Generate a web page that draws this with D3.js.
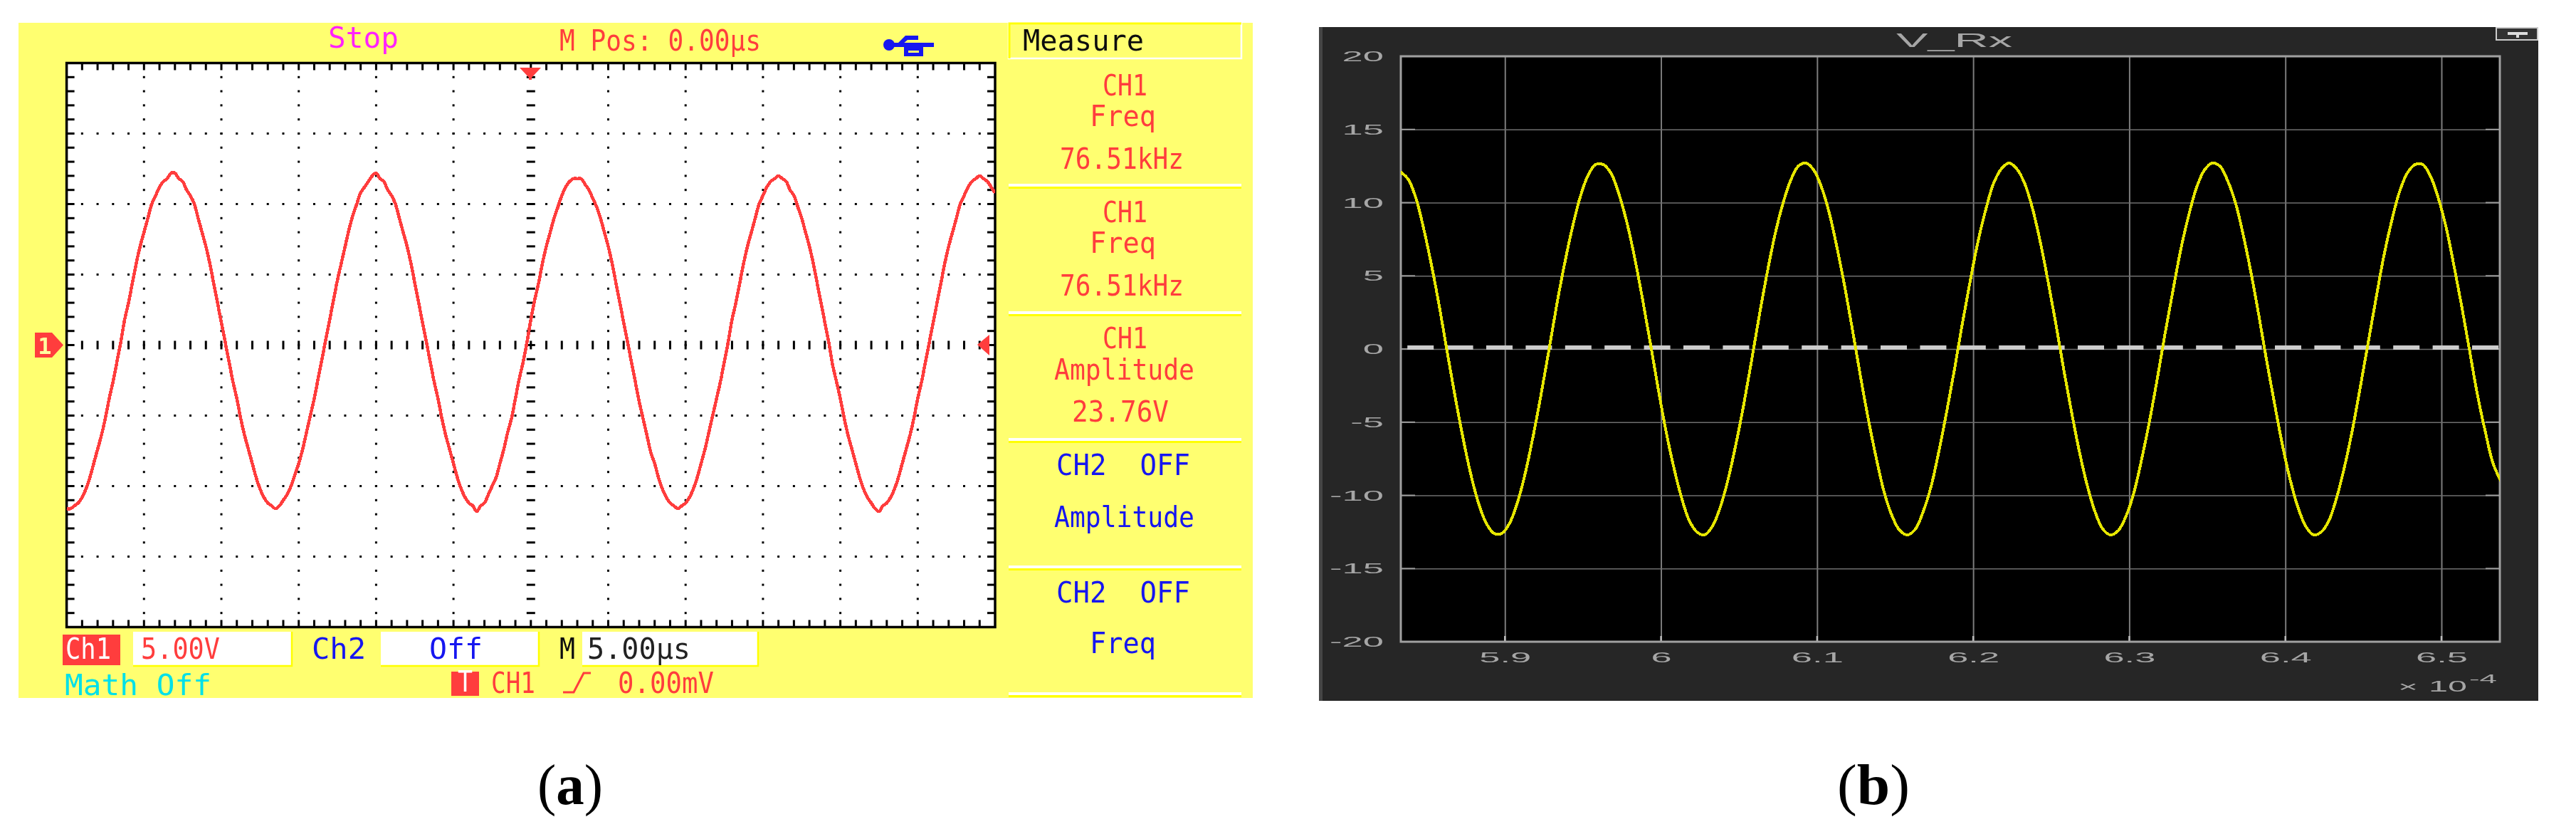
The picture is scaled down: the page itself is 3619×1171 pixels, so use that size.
<!DOCTYPE html>
<html>
<head>
<meta charset="utf-8">
<script src="https://cdn.jsdelivr.net/npm/d3@7"></script>
<style>
  body { margin: 0; background: #fff; }
  svg { display: block; }
  .scope text { font-family: "DejaVu Sans Mono", monospace; }
  .sim text { font-family: "Liberation Sans", sans-serif; fill: #a6a6a6; }
</style>
</head>
<body>
<svg id="chart" width="3619" height="1171"></svg>
<script>
// (a) scope trace, volts, one sample every 0.25 us
const scopeStep = 0.25;
const scopeVolts = [
  -11.6,-11.6,
  -11.4,-11.2,-10.8,-10.2,-9.4,-8.4,-7.4,-6.4,-5.2,-3.8,-2.6,-1.2,0.2,1.8,3.0,4.4,5.8,7.0,8.0,9.0,10.0,10.6,11.2,11.6,11.8,12.2,
  12.2,11.8,11.6,11.0,10.6,10.0,9.0,8.0,7.0,5.8,4.4,3.0,1.6,0.2,-1.2,-2.6,-3.8,-5.2,-6.4,-7.4,-8.4,-9.4,-10.2,-10.8,-11.2,-11.4,-11.6,
  -11.4,-11.0,-10.6,-10.0,-9.2,-8.4,-7.4,-6.2,-5.0,-3.8,-2.4,-1.0,0.4,1.8,3.2,4.6,5.8,7.0,8.2,9.2,10.0,10.8,11.2,11.6,12.0,12.2,
  11.8,11.6,11.0,10.6,10.0,9.0,8.0,7.0,5.8,4.4,3.0,1.6,0.2,-1.2,-2.6,-3.8,-5.2,-6.4,-7.4,-8.4,-9.4,-10.2,-10.8,-11.2,-11.4,-11.8,
  -11.4,-11.2,-10.6,-10.0,-9.4,-8.4,-7.4,-6.2,-5.2,-3.8,-2.4,-1.2,0.2,1.8,3.2,4.4,5.8,7.0,8.0,9.0,9.8,10.6,11.2,11.6,11.8,11.8,
  11.8,11.4,11.0,10.4,9.8,9.0,8.0,7.0,5.8,4.4,3.0,1.6,0.2,-1.2,-2.6,-4.0,-5.2,-6.4,-7.6,-8.4,-9.4,-10.2,-10.8,-11.2,-11.4,-11.6,
  -11.4,-11.2,-10.8,-10.2,-9.4,-8.4,-7.4,-6.2,-5.0,-3.8,-2.6,-1.2,0.2,1.8,3.0,4.4,5.8,7.0,8.0,9.0,10.0,10.6,11.2,11.6,11.8,12.0,
  11.8,11.6,11.0,10.6,9.8,9.0,8.0,7.0,5.8,4.4,3.0,1.6,0.2,-1.4,-2.6,-3.8,-5.2,-6.4,-7.4,-8.4,-9.4,-10.2,-10.8,-11.2,-11.6,-11.8,
  -11.4,-11.2,-10.8,-10.2,-9.4,-8.4,-7.4,-6.4,-5.2,-3.8,-2.6,-1.2,0.2,1.6,3.0,4.4,5.8,7.0,8.0,9.0,10.0,10.6,11.2,11.6,11.8,12.0,
  11.8,11.6,11.2,10.8
];

// (b) simulated V_Rx, x in units of 1e-4 s
const simStart = 5.833, simStep = 0.005;
const simVolts = [
  12.1,11.6,10.3,8.2,5.7,2.9,-0.2,-3.2,-6.0,-8.5,-10.5,-11.9,-12.6,-12.6,-11.9,-10.5,-8.5,-6.0,-3.2,-0.2,2.9,5.7,8.2,10.3,11.8,12.6,
  12.6,12.0,10.6,8.7,6.3,3.5,0.5,-2.6,-5.5,-8.0,-10.1,-11.7,-12.5,-12.7,-12.1,-10.8,-8.9,-6.5,-3.8,-0.8,2.3,5.2,7.8,9.9,11.5,12.5,
  12.7,12.2,11.0,9.2,6.8,4.1,1.1,-2.0,-4.9,-7.5,-9.8,-11.4,-12.4,-12.7,-12.3,-11.1,-9.4,-7.0,-4.3,-1.4,1.7,4.6,7.3,9.5,11.3,12.3,
  12.7,12.3,11.3,9.6,7.3,4.6,1.7,-1.4,-4.3,-7.0,-9.3,-11.1,-12.3,-12.7,-12.4,-11.4,-9.8,-7.5,-4.9,-2.0,1.1,4.0,6.8,9.1,11.0,12.2,
  12.7,12.5,11.5,10.0,7.8,5.2,2.3,-0.8,-3.7,-6.5,-8.9,-10.8,-12.1,-12.7,-12.5,-11.7,-10.1,-8.0,-5.5,-2.6,0.4,3.4,6.3,8.7,10.7,12.0,
  12.6,12.6,11.8,10.3,8.3,5.7,2.9,-0.1,-3.1,-5.6,-7.8,-9.0
];

// axis values
const simXTicks = [5.9, 6, 6.1, 6.2, 6.3, 6.4, 6.5];
const simXLabels = ["5.9", "6", "6.1", "6.2", "6.3", "6.4", "6.5"];
const simYTicks = [-20, -15, -10, -5, 0, 5, 10, 15, 20];

// scope menu text: [text, left, right, baseline, colour]
const red = "#ff3c3c", blue = "#1414f0", cyan = "#00e0e8", magenta = "#ff22ff";
const scopeLabels = [
  ["Stop", 461, 560, 67, magenta],
  ["M Pos: 0.00\u00b5s", 786, 1069, 71, red],
  ["Measure", 1437, 1607, 71, "#111"],
  ["CH1", 1549, 1612, 134, red],
  ["Freq", 1531, 1624, 177, red],
  ["76.51kHz", 1489, 1663, 237, red],
  ["CH1", 1549, 1612, 312, red],
  ["Freq", 1531, 1624, 355, red],
  ["76.51kHz", 1489, 1663, 415, red],
  ["CH1", 1549, 1612, 489, red],
  ["Amplitude", 1481, 1678, 533, red],
  ["23.76V", 1506, 1642, 592, red],
  ["CH2  OFF", 1484, 1672, 667, blue],
  ["Amplitude", 1481, 1678, 740, blue],
  ["CH2  OFF", 1484, 1672, 846, blue],
  ["Freq", 1531, 1624, 917, blue],
  ["Ch1", 92, 156, 925, "#fff"],
  ["5.00V", 198, 309, 925, red],
  ["Ch2", 438, 514, 925, blue],
  ["Off", 603, 678, 925, blue],
  ["M", 786, 808, 925, "#111"],
  ["5.00\u00b5s", 825, 970, 925, "#222"],
  ["Math Off", 91, 297, 976, cyan],
  ["T", 643, 664, 971, "#fff"],
  ["CH1", 690, 752, 973, red],
  ["0.00mV", 868, 1003, 973, red]
];
const scopeDividers = [258, 437, 615, 794, 972];

const svg = d3.select("#chart");

// the reference is a soft upscaled screenshot
const soft = svg.append("defs").append("filter").attr("id", "soft")
  .attr("filterUnits", "userSpaceOnUse").attr("x", 0).attr("y", 0).attr("width", 3619).attr("height", 1171);
soft.append("feGaussianBlur").attr("stdDeviation", 0.7);

// ---------- (a) oscilloscope ----------
const a = svg.append("g").attr("class", "scope").attr("filter", "url(#soft)");
a.append("rect").attr("x", 26).attr("y", 32).attr("width", 1734).attr("height", 948).attr("fill", "#ffff70");

const xA = d3.scaleLinear().domain([0, 60]).range([93.6, 1398]);
const yA = d3.scaleLinear().domain([-20, 20]).range([880.5, 88.5]);

a.append("rect")
  .attr("x", xA(0)).attr("y", yA(20))
  .attr("width", xA(60) - xA(0)).attr("height", yA(-20) - yA(20))
  .attr("fill", "#fff").attr("stroke", "#000").attr("stroke-width", 3.5);

const minorX = d3.range(1, 60).map(d => d);   // one per us
const minorY = d3.range(-19, 20).map(d => d); // one per volt
const divX = d3.range(5, 60, 5), divY = d3.range(-15, 20, 5);

// border ticks
a.selectAll(".tt").data(minorX).join("rect").attr("x", d => xA(d) - 1.5).attr("y", yA(20)).attr("width", 3).attr("height", 10);
a.selectAll(".bt").data(minorX).join("rect").attr("x", d => xA(d) - 1.5).attr("y", yA(-20) - 10).attr("width", 3).attr("height", 10);
a.selectAll(".lt").data(minorY).join("rect").attr("x", xA(0)).attr("y", d => yA(d) - 1.5).attr("width", 11).attr("height", 3);
a.selectAll(".rt").data(minorY).join("rect").attr("x", xA(60) - 11).attr("y", d => yA(d) - 1.5).attr("width", 11).attr("height", 3);

// dotted divisions
divX.filter(d => d !== 30).forEach(dx => {
  a.append("g").selectAll("rect").data(minorY).join("rect")
    .attr("x", xA(dx) - 1.5).attr("y", d => yA(d) - 1.5).attr("width", 3).attr("height", 3);
});
divY.filter(d => d !== 0).forEach(dy => {
  a.append("g").selectAll("rect").data(minorX).join("rect")
    .attr("x", d => xA(d) - 1.5).attr("y", yA(dy) - 1.5).attr("width", 3).attr("height", 3);
});
// centre cross
a.append("g").selectAll("rect").data(minorX).join("rect")
  .attr("x", d => xA(d) - 1.5).attr("y", yA(0) - 6).attr("width", 3).attr("height", 12);
a.append("g").selectAll("rect").data(minorY).join("rect")
  .attr("x", xA(30) - 6).attr("y", d => yA(d) - 1.5).attr("width", 12).attr("height", 3);

// trace
a.append("clipPath").attr("id", "clipA").append("rect")
  .attr("x", xA(0)).attr("y", yA(20)).attr("width", xA(60) - xA(0)).attr("height", yA(-20) - yA(20));
const lineA = d3.line().x((d, i) => xA(i * scopeStep)).y(d => yA(d)).curve(d3.curveCatmullRom);
a.append("path").datum(scopeVolts)
  .attr("d", lineA).attr("clip-path", "url(#clipA)")
  .attr("fill", "none").attr("stroke", red).attr("stroke-width", 4.5)
  .attr("shape-rendering", "crispEdges");

// markers
a.append("path").attr("fill", red).attr("d", `M730 95H760L745 111Z`);
a.append("rect").attr("x", 743).attr("y", 105).attr("width", 4).attr("height", 7).attr("fill", red);
a.append("path").attr("fill", red).attr("d", `M49 467H73L89 484.5L73 502H49Z`);
a.append("text").text("1").attr("x", 63).attr("y", 497).attr("text-anchor", "middle")
  .attr("font-size", 32).attr("font-weight", "bold").attr("fill", "#ffffa0");
a.append("path").attr("fill", red).attr("d", `M1373 484L1390 470V499Z`);

// menu boxes
a.append("rect").attr("x", 1417).attr("y", 33).attr("width", 327).attr("height", 49).attr("fill", "none").attr("stroke", "#fff").attr("stroke-width", 2.5);
a.append("path").attr("d", "M1418 82V33H1744").attr("fill", "none").attr("stroke", "#ffff00").attr("stroke-width", 3);
a.selectAll(".div").data(scopeDividers).join("g").each(function(d) {
  const g = d3.select(this);
  g.append("rect").attr("x", 1417).attr("y", d).attr("width", 327).attr("height", 4).attr("fill", "#fff");
  g.append("rect").attr("x", 1417).attr("y", d + 4).attr("width", 327).attr("height", 3).attr("fill", "#ffff00");
});
[[187, 223], [535, 222], [818, 247]].forEach(([x, w]) => {
  a.append("rect").attr("x", x).attr("y", 887).attr("width", w).attr("height", 47).attr("fill", "#fff");
  a.append("path").attr("d", `M${x} 935H${x + w}V887`).attr("fill", "none").attr("stroke", "#ffff00").attr("stroke-width", 2.5);
});
a.append("rect").attr("x", 88).attr("y", 891).attr("width", 81).attr("height", 43).attr("fill", red);
a.append("rect").attr("x", 634).attr("y", 943).attr("width", 39).attr("height", 34).attr("fill", red);
a.append("path").attr("d", "M791 972H806L820 945H830").attr("fill", "none").attr("stroke", red).attr("stroke-width", 3);

// usb symbol
const usb = a.append("g").attr("fill", blue);
usb.append("rect").attr("x", 1248).attr("y", 60).attr("width", 64).attr("height", 6);
usb.append("circle").attr("cx", 1249).attr("cy", 63).attr("r", 8);
usb.append("path").attr("d", "M1262 60L1272 50H1290V56H1275L1268 62Z");
usb.append("path").attr("d", "M1270 66H1297V79H1270ZM1276 71V74H1291V71Z").attr("fill-rule", "evenodd");

// stretch each label to the width it has in the picture
a.selectAll(".lbl").data(scopeLabels).join("text")
  .text(d => d[0])
  .attr("xml:space", "preserve")
  .attr("x", d => d[1]).attr("y", d => d[3])
  .attr("textLength", d => d[2] - d[1]).attr("lengthAdjust", "spacingAndGlyphs")
  .attr("font-size", 41).attr("fill", d => d[4]);

// ---------- (b) simulation ----------
const b = svg.append("g").attr("class", "sim").attr("filter", "url(#soft)");
b.append("rect").attr("x", 1853).attr("y", 38).attr("width", 1713).attr("height", 946).attr("fill", "#262626");
b.append("rect").attr("x", 1853).attr("y", 38).attr("width", 5).attr("height", 946).attr("fill", "#444");

const xB = d3.scaleLinear().domain([5.8333, 6.5374]).range([1968, 3512]);
const yB = d3.scaleLinear().domain([-20, 20]).range([901, 79]);

b.append("rect").attr("x", xB.range()[0]).attr("y", yB(20))
  .attr("width", xB.range()[1] - xB.range()[0]).attr("height", yB(-20) - yB(20)).attr("fill", "#000");

const gx = b.append("g").attr("transform", `translate(0,${yB(-20)})`)
  .call(d3.axisBottom(xB).tickValues(simXTicks).tickFormat((d, i) => simXLabels[i]).tickSize(-(yB(-20) - yB(20))).tickPadding(14));
const gy = b.append("g").attr("transform", `translate(${xB.range()[0]},0)`)
  .call(d3.axisLeft(yB).tickValues(simYTicks).tickFormat(d => String(d)).tickSize(-(xB.range()[1] - xB.range()[0])).tickPadding(24));
[gx, gy].forEach(g => {
  g.select(".domain").remove();
  g.selectAll("line").attr("stroke", "#6e6e6e").attr("stroke-width", 1.6);
});
gx.selectAll("line").attr("stroke", "#7c7c7c").attr("stroke-width", 2);

// tick stubs and frame
b.append("g").selectAll("line").data(simYTicks.slice(1, -1)).join("line")
  .attr("x1", xB.range()[0]).attr("x2", xB.range()[0] + 20).attr("y1", d => yB(d)).attr("y2", d => yB(d))
  .attr("stroke", "#9a9a9a").attr("stroke-width", 2);
b.append("g").selectAll("line").data(simYTicks.slice(1, -1)).join("line")
  .attr("x1", xB.range()[1] - 20).attr("x2", xB.range()[1]).attr("y1", d => yB(d)).attr("y2", d => yB(d))
  .attr("stroke", "#9a9a9a").attr("stroke-width", 2);
b.append("g").selectAll("line").data(simXTicks).join("line")
  .attr("x1", d => xB(d)).attr("x2", d => xB(d)).attr("y1", yB(-20) - 8).attr("y2", yB(-20))
  .attr("stroke", "#bbb").attr("stroke-width", 2.5);
b.append("rect").attr("x", xB.range()[0]).attr("y", yB(20))
  .attr("width", xB.range()[1] - xB.range()[0]).attr("height", yB(-20) - yB(20))
  .attr("fill", "none").attr("stroke", "#a0a0a0").attr("stroke-width", 3);

// zero reference
const refLine = d3.line().x(d => xB(d)).y(() => yB(0.1));
b.append("path").datum([5.8375, 6.5445]).attr("d", refLine)
  .attr("stroke", "#cccccc").attr("stroke-width", 6).attr("stroke-dasharray", "37 18.4").attr("fill", "none");

// trace
b.append("clipPath").attr("id", "clipB").append("rect")
  .attr("x", xB.range()[0]).attr("y", yB(20)).attr("width", xB.range()[1] - xB.range()[0]).attr("height", yB(-20) - yB(20));
const lineB = d3.line().x((d, i) => xB(simStart + i * simStep)).y(d => yB(d)).curve(d3.curveCatmullRom);
b.append("path").datum(simVolts)
  .attr("d", lineB).attr("clip-path", "url(#clipB)")
  .attr("fill", "none").attr("stroke", "#e6e600").attr("stroke-width", 4)
  .attr("shape-rendering", "crispEdges");

// labels are drawn very wide in the picture
function widen(sel, k) {
  sel.each(function() {
    const t = d3.select(this);
    t.attr("textLength", this.getComputedTextLength() * k).attr("lengthAdjust", "spacingAndGlyphs");
  });
}
gy.selectAll("text").attr("font-size", 21).attr("font-family", null).attr("fill", "#a6a6a6").call(widen, 2.5);
gx.selectAll("text").attr("font-size", 21).attr("font-family", null).attr("fill", "#a6a6a6").call(widen, 2.5);

b.append("text").text("V_Rx").attr("x", 2664).attr("y", 66).attr("font-size", 27)
  .attr("textLength", 163).attr("lengthAdjust", "spacingAndGlyphs");
b.append("text").text("\u00d7").attr("x", 3369).attr("y", 971).attr("font-size", 20)
  .attr("textLength", 28).attr("lengthAdjust", "spacingAndGlyphs");
b.append("text").text("10").attr("x", 3412).attr("y", 971).attr("font-size", 22)
  .attr("textLength", 54).attr("lengthAdjust", "spacingAndGlyphs");
b.append("text").text("-4").attr("x", 3469).attr("y", 959).attr("font-size", 17)
  .attr("textLength", 39).attr("lengthAdjust", "spacingAndGlyphs");

// figure window button
b.append("rect").attr("x", 3507).attr("y", 39).attr("width", 58).attr("height", 17)
  .attr("fill", "#333").attr("stroke", "#ccc").attr("stroke-width", 2);
b.append("path").attr("d", "M3523 47H3551M3537 47V53").attr("stroke", "#ddd").attr("stroke-width", 4);

// ---------- panel captions ----------
const caps = svg.append("g").attr("font-family", "'Liberation Serif', serif").attr("font-size", 80).attr("fill", "#000");
[["a", 755, 92, 1129], ["b", 2581, 102, 1129]].forEach(([s, x, w, y]) => {
  const t = caps.append("text").attr("x", x).attr("y", y)
    .attr("textLength", w).attr("lengthAdjust", "spacingAndGlyphs");
  t.append("tspan").text("(");
  t.append("tspan").text(s).attr("font-weight", "bold");
  t.append("tspan").text(")");
});
</script>
</body>
</html>
